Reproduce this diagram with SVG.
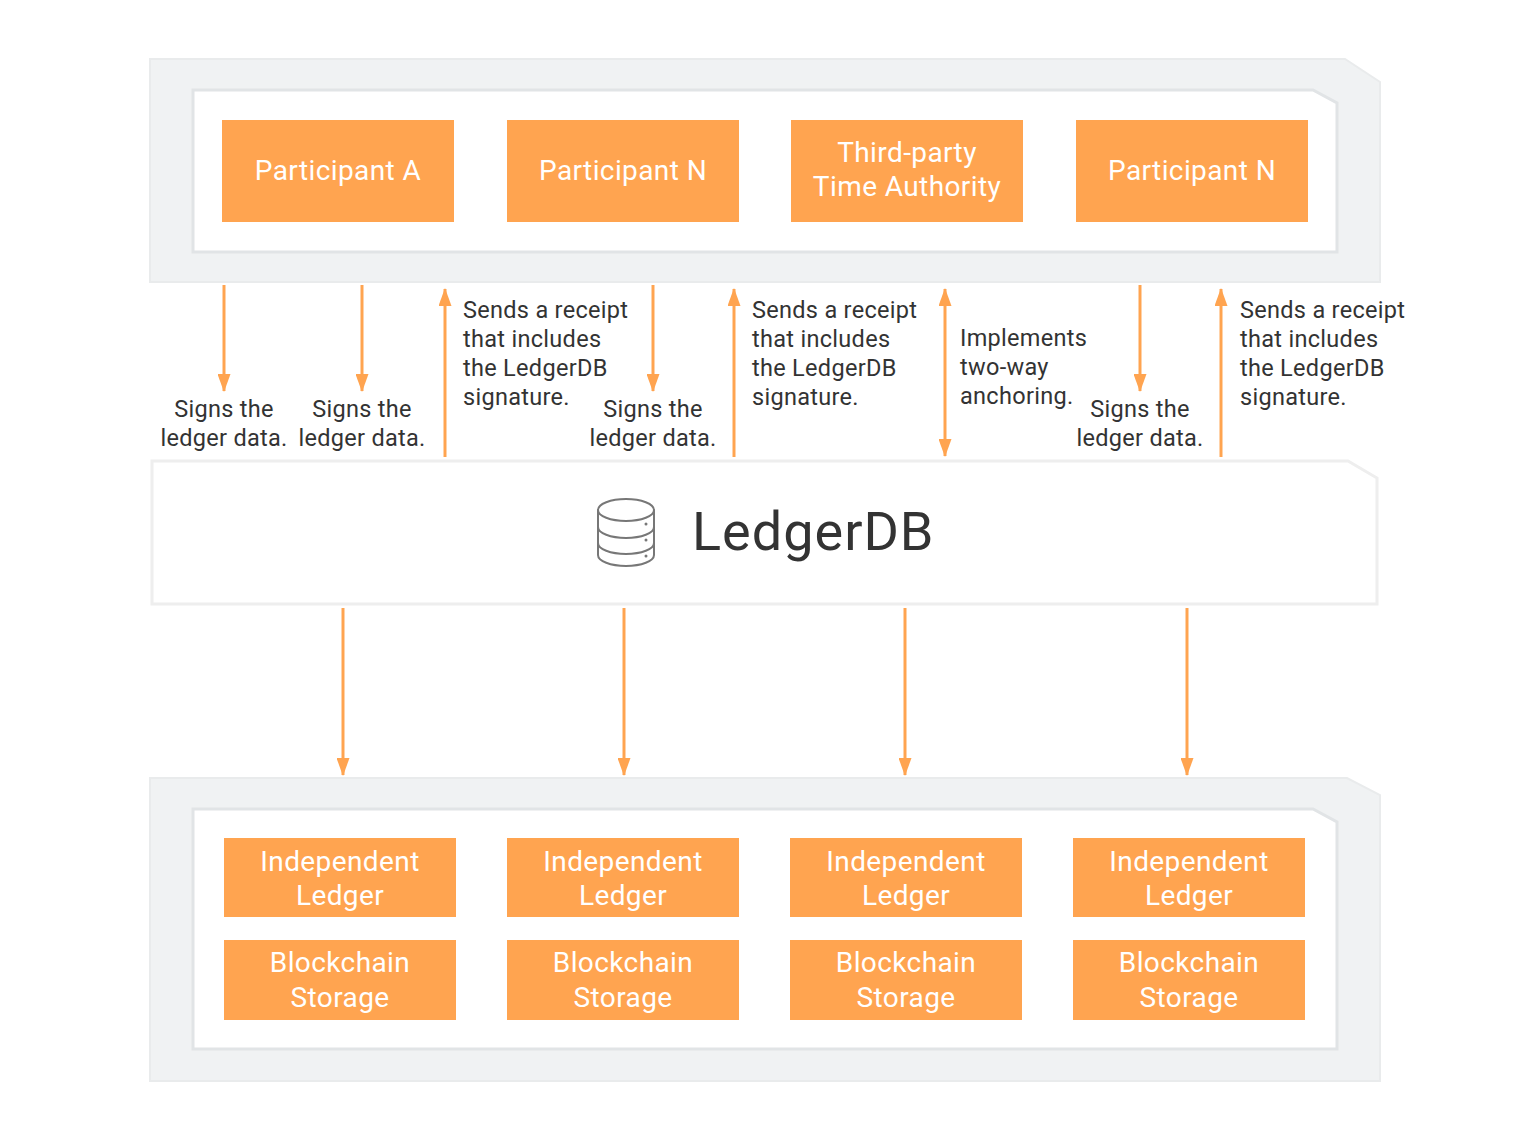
<svg xmlns="http://www.w3.org/2000/svg" width="1530" height="1140" viewBox="0 0 1530 1140">
<style>
.outer{fill:#f0f2f3;stroke:#e9ebec;stroke-width:2}
.inner{fill:#ffffff;stroke:#e1e4e6;stroke-width:3}
.mid{fill:#ffffff;stroke:#eeeeee;stroke-width:3}
.box{fill:#ffa450}
.bt{font-family:Roboto,"Liberation Sans",sans-serif;font-size:28px;letter-spacing:0.4px;fill:#ffffff;text-anchor:middle}
.lbl{font-family:Roboto,"Liberation Sans",sans-serif;font-size:23.5px;letter-spacing:0.3px;fill:#333333}
.c{text-anchor:middle}
.ar{stroke:#ffa450;stroke-width:3;fill:none}
.db{fill:none;stroke:#777777;stroke-width:2}
</style>
<defs>
<marker id="head" viewBox="0 0 18 13" refX="17" refY="6.5" markerWidth="18" markerHeight="13" markerUnits="userSpaceOnUse" orient="auto-start-reverse">
<path d="M0,0 L18,6.5 L0,13 Z" fill="#ffa450"/>
</marker>
</defs>

<g id="participants-panel">
<path class="outer" d="M150,59 H1345 L1380,82 V282 H150 Z"/>
<path class="inner" d="M193,90 H1313 L1337,103 V252 H193 Z"/>
</g>
<g id="participant-a"><rect class="box" x="222" y="120" width="232" height="102"/><text class="bt" x="338" y="180">Participant A</text></g>
<g id="participant-n1"><rect class="box" x="507" y="120" width="232" height="102"/><text class="bt" x="623" y="180">Participant N</text></g>
<g id="third-party"><rect class="box" x="791" y="120" width="232" height="102"/><text class="bt" x="907" y="162">Third-party</text><text class="bt" x="907" y="196">Time Authority</text></g>
<g id="participant-n2"><rect class="box" x="1076" y="120" width="232" height="102"/><text class="bt" x="1192" y="180">Participant N</text></g>

<g id="ledgerdb">
<path class="mid" d="M152,461 H1348 L1377,478 V604 H152 Z"/>
<g id="db-icon">
<ellipse class="db" cx="626" cy="510" rx="28" ry="11"/>
<path class="db" d="M598,510 V555 A28,11 0 0 0 654,555 V510"/>
<path class="db" d="M598,527 A28,11 0 0 0 654,527"/>
<path class="db" d="M598,543 A28,11 0 0 0 654,543"/>
<circle cx="646" cy="524" r="1.5" fill="#777"/>
<circle cx="646" cy="540" r="1.5" fill="#777"/>
<circle cx="646" cy="556" r="1.5" fill="#777"/>
</g>
<text x="692" y="550" style="font-family:Roboto,'Liberation Sans',sans-serif;font-size:54px;letter-spacing:1px;fill:#333333">LedgerDB</text>
</g>

<g id="storage-panel">
<path class="outer" d="M150,778 H1347 L1380,795 V1081 H150 Z"/>
<path class="inner" d="M193,809 H1313 L1337,822 V1049 H193 Z"/>
</g>
<g id="ledger-1"><rect class="box" x="224" y="838" width="232" height="79"/><text class="bt" x="340" y="871">Independent</text><text class="bt" x="340" y="905">Ledger</text></g>
<g id="storage-1"><rect class="box" x="224" y="940" width="232" height="80"/><text class="bt" x="340" y="972">Blockchain</text><text class="bt" x="340" y="1007">Storage</text></g>
<g id="ledger-2"><rect class="box" x="507" y="838" width="232" height="79"/><text class="bt" x="623" y="871">Independent</text><text class="bt" x="623" y="905">Ledger</text></g>
<g id="storage-2"><rect class="box" x="507" y="940" width="232" height="80"/><text class="bt" x="623" y="972">Blockchain</text><text class="bt" x="623" y="1007">Storage</text></g>
<g id="ledger-3"><rect class="box" x="790" y="838" width="232" height="79"/><text class="bt" x="906" y="871">Independent</text><text class="bt" x="906" y="905">Ledger</text></g>
<g id="storage-3"><rect class="box" x="790" y="940" width="232" height="80"/><text class="bt" x="906" y="972">Blockchain</text><text class="bt" x="906" y="1007">Storage</text></g>
<g id="ledger-4"><rect class="box" x="1073" y="838" width="232" height="79"/><text class="bt" x="1189" y="871">Independent</text><text class="bt" x="1189" y="905">Ledger</text></g>
<g id="storage-4"><rect class="box" x="1073" y="940" width="232" height="80"/><text class="bt" x="1189" y="972">Blockchain</text><text class="bt" x="1189" y="1007">Storage</text></g>

<g id="connectors">
<line class="ar" x1="224" y1="285" x2="224" y2="391" marker-end="url(#head)"/>
<line class="ar" x1="362" y1="285" x2="362" y2="391" marker-end="url(#head)"/>
<line class="ar" x1="445" y1="457" x2="445" y2="289" marker-end="url(#head)"/>
<line class="ar" x1="653" y1="285" x2="653" y2="391" marker-end="url(#head)"/>
<line class="ar" x1="734" y1="457" x2="734" y2="289" marker-end="url(#head)"/>
<line class="ar" x1="945" y1="289" x2="945" y2="456" marker-start="url(#head)" marker-end="url(#head)"/>
<line class="ar" x1="1140" y1="285" x2="1140" y2="391" marker-end="url(#head)"/>
<line class="ar" x1="1221" y1="457" x2="1221" y2="289" marker-end="url(#head)"/>
<line class="ar" x1="343" y1="608" x2="343" y2="775" marker-end="url(#head)"/>
<line class="ar" x1="624" y1="608" x2="624" y2="775" marker-end="url(#head)"/>
<line class="ar" x1="905" y1="608" x2="905" y2="775" marker-end="url(#head)"/>
<line class="ar" x1="1187" y1="608" x2="1187" y2="775" marker-end="url(#head)"/>
<g id="connector-labels">
<text class="lbl c" x="224" y="417">Signs the</text><text class="lbl c" x="224" y="446">ledger data.</text>
<text class="lbl c" x="362" y="417">Signs the</text><text class="lbl c" x="362" y="446">ledger data.</text>
<text class="lbl" x="463" y="318">Sends a receipt</text><text class="lbl" x="463" y="347">that includes</text><text class="lbl" x="463" y="376">the LedgerDB</text><text class="lbl" x="463" y="405">signature.</text>
<text class="lbl c" x="653" y="417">Signs the</text><text class="lbl c" x="653" y="446">ledger data.</text>
<text class="lbl" x="752" y="318">Sends a receipt</text><text class="lbl" x="752" y="347">that includes</text><text class="lbl" x="752" y="376">the LedgerDB</text><text class="lbl" x="752" y="405">signature.</text>
<text class="lbl" x="960" y="346">Implements</text><text class="lbl" x="960" y="375">two-way</text><text class="lbl" x="960" y="404">anchoring.</text>
<text class="lbl c" x="1140" y="417">Signs the</text><text class="lbl c" x="1140" y="446">ledger data.</text>
<text class="lbl" x="1240" y="318">Sends a receipt</text><text class="lbl" x="1240" y="347">that includes</text><text class="lbl" x="1240" y="376">the LedgerDB</text><text class="lbl" x="1240" y="405">signature.</text>
</g>
</g>
</svg>
